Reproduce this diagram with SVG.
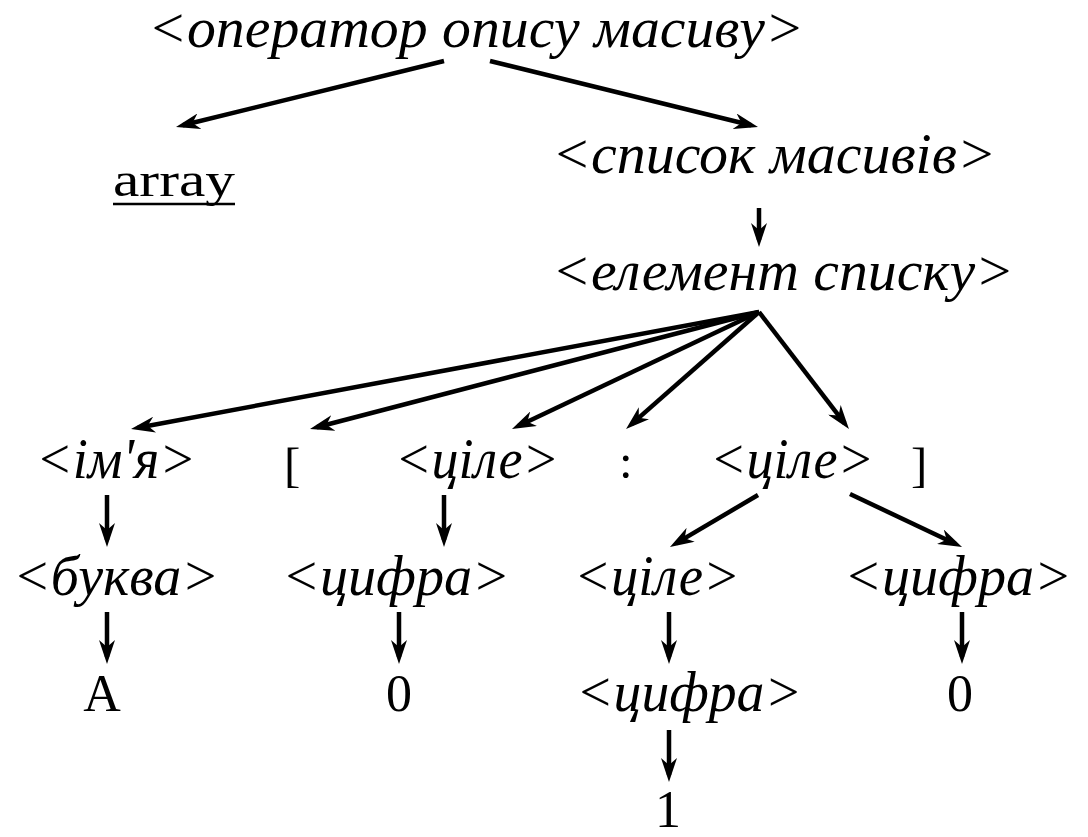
<svg xmlns="http://www.w3.org/2000/svg" width="1088" height="837" viewBox="0 0 1088 837">
<style>
.t{font-family:"Liberation Serif","Times New Roman",serif;font-style:italic;font-size:56px;fill:#000}
.r{font-family:"Liberation Serif","Times New Roman",serif;font-size:49px;fill:#000}
.d{font-family:"Liberation Serif","Times New Roman",serif;font-size:52px;fill:#000;text-anchor:middle}
.c{fill:none;stroke:#000;stroke-width:4.5;marker-end:url(#ah)}
</style>
<defs>
<marker id="ah" markerUnits="userSpaceOnUse" viewBox="0 0 24 16" refX="17" refY="8" markerWidth="24" markerHeight="16" orient="auto">
<path d="M0,0 L24,8 L0,16 L7,8 z" fill="#000"/>
</marker>
</defs>
<rect width="1088" height="837" fill="#fff"/>
<g id="connectors">
<line class="c" x1="444" y1="61" x2="182.8" y2="125.3"/>
<line class="c" x1="490" y1="61" x2="751.2" y2="125.3"/>
<line class="c" x1="759" y1="208" x2="759" y2="240"/>
<line class="c" x1="759" y1="312" x2="137.9" y2="427.7"/>
<line class="c" x1="759" y1="312" x2="316.8" y2="427.2"/>
<line class="c" x1="759" y1="312" x2="518.3" y2="426"/>
<line class="c" x1="759" y1="312" x2="631.3" y2="424.4"/>
<line class="c" x1="759" y1="312" x2="844.7" y2="423.4"/>
<line class="c" x1="107" y1="495" x2="107" y2="540"/>
<line class="c" x1="444" y1="495" x2="444" y2="540"/>
<line class="c" x1="758" y1="495" x2="676" y2="543.4"/>
<line class="c" x1="850" y1="494" x2="955.7" y2="544"/>
<line class="c" x1="107" y1="612" x2="107" y2="657"/>
<line class="c" x1="399" y1="612" x2="399" y2="657"/>
<line class="c" x1="669" y1="612" x2="669" y2="657"/>
<line class="c" x1="962" y1="612" x2="962" y2="657"/>
<line class="c" x1="669" y1="730" x2="669" y2="775"/>
</g>
<g id="n-root"><text class="t" x="148" y="47" font-size="48" textLength="656" lengthAdjust="spacingAndGlyphs">&lt;оператор опису масиву&gt;</text></g>
<g id="n-array"><text class="r" x="113" y="196" font-size="50" textLength="122" lengthAdjust="spacingAndGlyphs">array</text><line x1="113" y1="204" x2="235" y2="204" stroke="#000" stroke-width="2.5"/></g>
<g id="n-spysok"><text class="t" x="552" y="173" textLength="444" lengthAdjust="spacingAndGlyphs">&lt;список масивів&gt;</text></g>
<g id="n-element"><text class="t" x="552" y="290" textLength="462" lengthAdjust="spacingAndGlyphs">&lt;елемент списку&gt;</text></g>
<g id="n-imya"><text class="t" x="36" y="478" textLength="160" lengthAdjust="spacingAndGlyphs">&lt;ім'я&gt;</text></g>
<g id="n-lbr"><text class="r" x="284" y="481">[</text></g>
<g id="n-tsile1"><text class="t" x="395" y="478" textLength="164" lengthAdjust="spacingAndGlyphs">&lt;ціле&gt;</text></g>
<g id="n-colon"><text class="r" x="619" y="478">:</text></g>
<g id="n-tsile2"><text class="t" x="710" y="478" textLength="164" lengthAdjust="spacingAndGlyphs">&lt;ціле&gt;</text></g>
<g id="n-rbr"><text class="r" x="911" y="481">]</text></g>
<g id="n-bukva"><text class="t" x="13" y="595" textLength="206" lengthAdjust="spacingAndGlyphs">&lt;буква&gt;</text></g>
<g id="n-tsyfra1"><text class="t" x="282" y="595" textLength="228" lengthAdjust="spacingAndGlyphs">&lt;цифра&gt;</text></g>
<g id="n-tsile3"><text class="t" x="574" y="595" textLength="166" lengthAdjust="spacingAndGlyphs">&lt;ціле&gt;</text></g>
<g id="n-tsyfra2"><text class="t" x="844" y="595" textLength="228" lengthAdjust="spacingAndGlyphs">&lt;цифра&gt;</text></g>
<g id="n-A"><text class="d" x="102" y="711">A</text></g>
<g id="n-0a"><text class="d" x="399" y="711">0</text></g>
<g id="n-tsyfra3"><text class="t" x="576" y="711" textLength="226" lengthAdjust="spacingAndGlyphs">&lt;цифра&gt;</text></g>
<g id="n-0b"><text class="d" x="960" y="711">0</text></g>
<g id="n-1"><text class="d" x="668" y="827">1</text></g>
</svg>
